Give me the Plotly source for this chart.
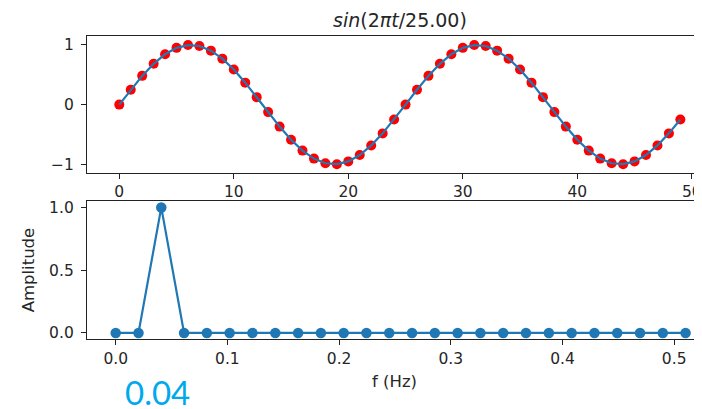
import plotly.graph_objects as go

# ---- data ----
t_values = list(range(50))
signal_values = [
    0.0, 0.2487, 0.4818, 0.6845, 0.8443, 0.9511, 0.9980, 0.9823, 0.9048, 0.7705,
    0.5878, 0.3681, 0.1253, -0.1253, -0.3681, -0.5878, -0.7705, -0.9048, -0.9823, -0.9980,
    -0.9511, -0.8443, -0.6845, -0.4818, -0.2487, 0.0, 0.2487, 0.4818, 0.6845, 0.8443,
    0.9511, 0.9980, 0.9823, 0.9048, 0.7705, 0.5878, 0.3681, 0.1253, -0.1253, -0.3681,
    -0.5878, -0.7705, -0.9048, -0.9823, -0.9980, -0.9511, -0.8443, -0.6845, -0.4818, -0.2487,
]
freq_values = [
    0.0, 0.0204, 0.0408, 0.0612, 0.0816, 0.1020, 0.1224, 0.1429, 0.1633, 0.1837,
    0.2041, 0.2245, 0.2449, 0.2653, 0.2857, 0.3061, 0.3265, 0.3469, 0.3673, 0.3878,
    0.4082, 0.4286, 0.4490, 0.4694, 0.4898, 0.5102,
]
amp_values = [0.0, 0.0, 1.0] + [0.0] * 23
title_text = "<i>sin</i>(2<i>πt</i>/25.00)"
peak_label = "0.04"
top_xticks = [0, 10, 20, 30, 40, 50]
top_yticks = [-1, 0, 1]
top_yticklabels = ["−1", "0", "1"]
bot_xticks = [0.0, 0.1, 0.2, 0.3, 0.4, 0.5]
bot_yticks = [0.0, 0.5, 1.0]

BLUE = "#1f77b4"
RED = "#ff0000"
FONT = "DejaVu Sans"
TXT = "#262626"

fig = go.Figure()
fig.add_trace(go.Scatter(x=t_values, y=signal_values, mode="markers",
                         marker=dict(color=RED, size=10), xaxis="x", yaxis="y",
                         showlegend=False))
fig.add_trace(go.Scatter(x=t_values, y=signal_values, mode="lines",
                         line=dict(color=BLUE, width=2.2), xaxis="x", yaxis="y",
                         showlegend=False))
fig.add_trace(go.Scatter(x=freq_values, y=amp_values, mode="lines+markers",
                         line=dict(color=BLUE, width=2.2),
                         marker=dict(color=BLUE, size=10.5), xaxis="x2", yaxis="y2",
                         showlegend=False))

axis_common = dict(showgrid=False, zeroline=False, showline=True, linecolor="#222",
                   linewidth=1.3, ticks="outside", ticklen=5, tickwidth=1.2,
                   tickcolor="#222", automargin=False,
                   tickfont=dict(family=FONT, size=15.5, color=TXT))

# The page body adds an 8px offset, so the figure is 8px smaller than the window.
fig.update_layout(
    width=694, height=401,
    margin=dict(l=79, r=0, t=28, b=70),
    paper_bgcolor="white", plot_bgcolor="white",
    font=dict(family=FONT, color=TXT),
    xaxis=dict(domain=[0, 1], range=[-2.82, 50.89], anchor="y", mirror=True,
               tickvals=top_xticks, **axis_common),
    yaxis=dict(domain=[0.549, 1], range=[-1.14, 1.15], anchor="x",
               tickvals=top_yticks, ticktext=top_yticklabels, ticklabelstandoff=4,
               **axis_common),
    xaxis2=dict(domain=[0, 1], range=[-0.0257, 0.5249], anchor="y2", mirror=True,
                tickvals=bot_xticks, tickformat=".1f",
                title=dict(text="f (Hz)", font=dict(family=FONT, size=16.5, color=TXT),
                           standoff=8),
                **axis_common),
    yaxis2=dict(domain=[0, 0.455], range=[-0.048, 1.05], anchor="x2",
                tickvals=bot_yticks, tickformat=".1f", ticklabelstandoff=4,
                title=dict(text="Amplitude", font=dict(family=FONT, size=16.5, color=TXT),
                           standoff=10),
                **axis_common),
    annotations=[
        dict(text=title_text, xref="paper", yref="paper", x=0.509, y=1.0,
             xanchor="center", yanchor="bottom", yshift=3, showarrow=False,
             font=dict(family=FONT, size=19, color=TXT)),
        dict(text=peak_label, xref="paper", yref="paper", x=(157 - 87) / 615, y=0,
             xanchor="center", yanchor="middle", yshift=-53, showarrow=False,
             height=34, valign="middle",
             font=dict(family="Lato", size=33, color="#00a8ec")),
    ],
)

fig.write_html("out.html")
